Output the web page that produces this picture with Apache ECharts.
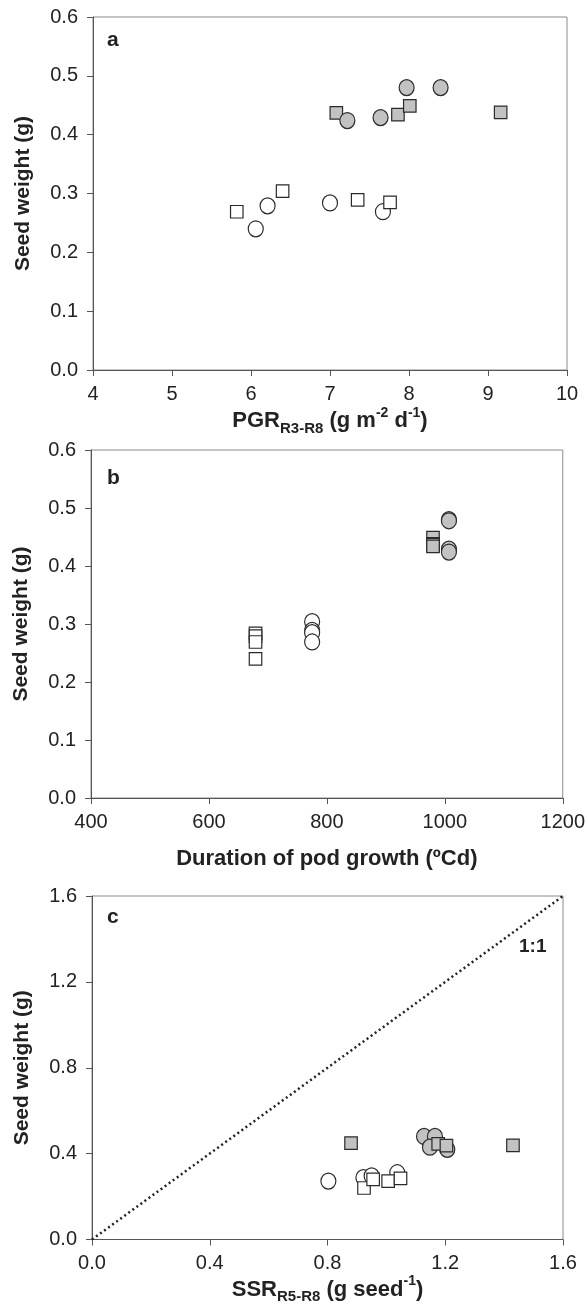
<!DOCTYPE html>
<html>
<head>
<meta charset="utf-8">
<script src="https://cdn.jsdelivr.net/npm/echarts@6/dist/echarts.min.js"></script>
<style>
  html, body { margin: 0; padding: 0; background: #fff; }
  #chart { width: 588px; height: 1307px; }
</style>
</head>
<body>
<div id="chart"></div>
<script>
// panel a: PGR R3-R8 vs seed weight
const pgrGrayCircle = [[7.97, 0.48], [8.40, 0.48], [7.22, 0.424], [7.64, 0.429]];
const pgrGraySquare = [[7.08, 0.437], [7.86, 0.434], [8.01, 0.449], [9.16, 0.438]];
const pgrWhiteCircle = [[6.06, 0.240], [6.21, 0.279], [7.00, 0.284], [7.67, 0.269]];
const pgrWhiteSquare = [[5.82, 0.269], [6.40, 0.304], [7.35, 0.289], [7.76, 0.285]];

// panel b: duration of pod growth vs seed weight
const durGrayCircle = [[1007, 0.48], [1007, 0.478], [1007, 0.429], [1007, 0.424]];
const durGraySquare = [[980, 0.449], [980, 0.438], [980, 0.437], [980, 0.434]];
const durWhiteCircle = [[775, 0.304], [775, 0.289], [775, 0.285], [775, 0.269]];
const durWhiteSquare = [[679, 0.284], [679, 0.279], [679, 0.269], [679, 0.240]];

// panel c: SSR R5-R8 vs seed weight
const ssrGrayCircle = [[1.128, 0.48], [1.165, 0.48], [1.148, 0.43], [1.207, 0.42]];
const ssrGraySquare = [[0.88, 0.449], [1.43, 0.438], [1.176, 0.445], [1.204, 0.437]];
const ssrWhiteCircle = [[0.803, 0.272], [0.922, 0.288], [0.950, 0.296], [1.037, 0.311]];
const ssrWhiteSquare = [[0.924, 0.240], [0.955, 0.280], [1.006, 0.272], [1.048, 0.285]];
const oneToOne = [[0, 0], [1.6, 1.6]];

const font = 'Liberation Sans, Arial, sans-serif';
const gray = '#c2c2c2';

function xAx(idx, min, max, step, digits, name, gap) {
  return {
    gridIndex: idx, type: 'value', min: min, max: max, interval: step,
    axisLine: { lineStyle: { color: '#555', width: 1 } },
    axisTick: { inside: false, length: 6, lineStyle: { color: '#555' } },
    splitLine: { show: false },
    axisLabel: { fontSize: 20, color: '#222', fontFamily: font, margin: 14,
      formatter: v => v.toFixed(digits) },
    name: name, nameLocation: 'middle', nameGap: gap,
    nameTextStyle: {
      fontFamily: font, color: '#222',
      rich: {
        b: { fontSize: 22, fontWeight: 'bold', lineHeight: 30, fontFamily: font, color: '#222' },
        sub: { fontSize: 15, fontWeight: 'bold', lineHeight: 15, verticalAlign: 'bottom', fontFamily: font, color: '#222' },
        sup: { fontSize: 14, fontWeight: 'bold', lineHeight: 14, verticalAlign: 'top', fontFamily: font, color: '#222' }
      }
    }
  };
}

function yAx(idx, max, step, shift) {
  return {
    gridIndex: idx, type: 'value', min: 0, max: max, interval: step,
    axisLine: { lineStyle: { color: '#555', width: 1 } },
    axisTick: { inside: false, length: 6, lineStyle: { color: '#555' } },
    splitLine: { show: false },
    axisLabel: { fontSize: 20, color: '#222', fontFamily: font, margin: 15,
      padding: [shift, 0, 0, 0],
      formatter: v => v.toFixed(1) },
    name: 'Seed weight (g)', nameLocation: 'middle', nameGap: 59,
    nameTextStyle: { fontSize: 21, fontWeight: 'bold', color: '#222', fontFamily: font }
  };
}

function pts(idx, data, shape, fill) {
  return {
    type: 'scatter', xAxisIndex: idx, yAxisIndex: idx, data: data,
    symbol: shape, symbolSize: shape === 'circle' ? [15, 16] : 12.5,
    itemStyle: { color: fill, borderColor: '#2a2a2a', borderWidth: 1.2, opacity: 1 },
    emphasis: { disabled: true }
  };
}

const gridStyle = { show: true, borderColor: '#8a8a8a', borderWidth: 1, backgroundColor: 'transparent' };

const option = {
  animation: false,
  backgroundColor: '#fff',
  grid: [
    Object.assign({ left: 93, top: 17, width: 474, height: 353 }, gridStyle),
    Object.assign({ left: 91, top: 450, width: 472, height: 348 }, gridStyle),
    Object.assign({ left: 92, top: 896, width: 471, height: 343.5 }, gridStyle)
  ],
  xAxis: [
    xAx(0, 4, 10, 1, 0, '{b|PGR}{sub|R3-R8}{b| (g m}{sup|-2}{b| d}{sup|-1}{b|)}', 36),
    xAx(1, 400, 1200, 200, 0, '{b|Duration of pod growth (ºCd)}', 46),
    xAx(2, 0, 1.6, 0.4, 1, '{b|SSR}{sub|R5-R8}{b| (g seed}{sup|-1}{b|)}', 35)
  ],
  yAxis: [yAx(0, 0.6, 0.1, 8), yAx(1, 0.6, 0.1, 4), yAx(2, 1.6, 0.4, 0)],
  graphic: [
    { type: 'text', left: 107, top: 30, style: { text: 'a', fontSize: 21, fontWeight: 'bold', fill: '#222', fontFamily: font } },
    { type: 'text', left: 107, top: 468, style: { text: 'b', fontSize: 21, fontWeight: 'bold', fill: '#222', fontFamily: font } },
    { type: 'text', left: 107, top: 907, style: { text: 'c', fontSize: 21, fontWeight: 'bold', fill: '#222', fontFamily: font } },
    { type: 'text', left: 519, top: 937, style: { text: '1:1', fontSize: 19, fontWeight: 'bold', fill: '#222', fontFamily: font } }
  ],
  series: [
    pts(0, pgrGraySquare, 'rect', gray),
    pts(0, pgrGrayCircle, 'circle', gray),
    pts(0, pgrWhiteCircle, 'circle', '#fff'),
    pts(0, pgrWhiteSquare, 'rect', '#fff'),

    pts(1, durGraySquare, 'rect', gray),
    pts(1, durGrayCircle, 'circle', gray),
    pts(1, durWhiteCircle, 'circle', '#fff'),
    pts(1, durWhiteSquare, 'rect', '#fff'),

    {
      type: 'line', xAxisIndex: 2, yAxisIndex: 2, data: oneToOne, symbol: 'none',
      lineStyle: { color: '#222', width: 2.5, type: [2, 3] }, silent: true
    },
    pts(2, ssrGrayCircle, 'circle', gray),
    pts(2, ssrGraySquare, 'rect', gray),
    pts(2, ssrWhiteCircle, 'circle', '#fff'),
    pts(2, ssrWhiteSquare, 'rect', '#fff')
  ]
};

echarts.init(document.getElementById('chart')).setOption(option);
</script>
</body>
</html>
